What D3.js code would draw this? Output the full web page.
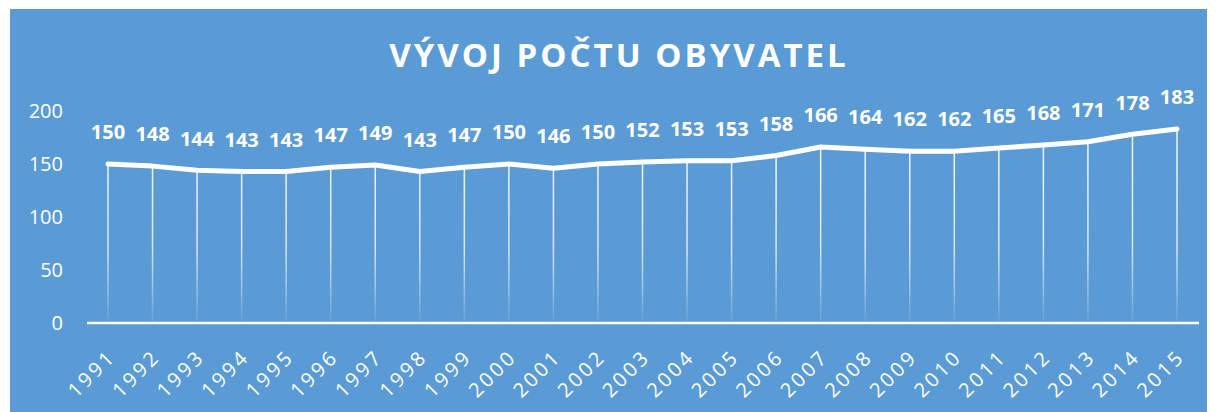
<!DOCTYPE html>
<html>
<head>
<meta charset="utf-8">
<script src="https://cdn.jsdelivr.net/npm/d3@7"></script>
<style>
    body { margin: 0; background: #ffffff; }
    #chart { width: 1217px; height: 412px; }
    text { font-family: "Open Sans", "Noto Sans", sans-serif; fill: #ffffff; }
</style>
</head>
<body>
<div id="chart"></div>
<script>
// data
let years = ["1991", "1992", "1993", "1994", "1995", "1996", "1997", "1998", "1999", "2000",
    "2001", "2002", "2003", "2004", "2005", "2006", "2007", "2008", "2009", "2010",
    "2011", "2012", "2013", "2014", "2015"];
let population = [150, 148, 144, 143, 143, 147, 149, 143, 147, 150,
    146, 150, 152, 153, 153, 158, 166, 164, 162, 162,
    165, 168, 171, 178, 183];
let yTicks = [0, 50, 100, 150, 200];
let title = "VÝVOJ POČTU OBYVATEL";

let width = 1217, height = 412;

let svg = d3.select("#chart").append("svg")
    .attr("width", width)
    .attr("height", height);

// background panel
svg.append("rect")
    .attr("x", 10).attr("y", 9)
    .attr("width", 1197).attr("height", 403)
    .attr("fill", "#5b9bd5");

// gradient for drop lines
let defs = svg.append("defs");
let grad = defs.append("linearGradient")
    .attr("id", "dropGrad")
    .attr("gradientUnits", "userSpaceOnUse")
    .attr("x1", 0).attr("x2", 0)
    .attr("y1", 160).attr("y2", 323);
grad.append("stop").attr("offset", "0%").attr("stop-color", "#fff").attr("stop-opacity", 0.9);
grad.append("stop").attr("offset", "55%").attr("stop-color", "#fff").attr("stop-opacity", 0.75);
grad.append("stop").attr("offset", "100%").attr("stop-color", "#fff").attr("stop-opacity", 0.05);

// scales
let x = d3.scalePoint()
    .domain(years)
    .range([108, 1177]);

let y = d3.scaleLinear()
    .domain([0, 200])
    .range([323, 111]);

// title
svg.append("text")
    .attr("x", 619)
    .attr("y", 67)
    .attr("text-anchor", "middle")
    .style("font-size", "33px")
    .style("font-weight", "bold")
    .style("letter-spacing", "3px")
    .text(title);

// y axis labels
svg.append("g")
    .selectAll("text")
    .data(yTicks)
    .enter().append("text")
    .attr("x", 63)
    .attr("y", d => y(d))
    .attr("dy", "0.36em")
    .attr("text-anchor", "end")
    .style("font-size", "20px")
    .text(d => d);

// drop lines
svg.append("g")
    .selectAll("line")
    .data(years)
    .enter().append("line")
    .attr("x1", d => x(d))
    .attr("x2", d => x(d))
    .attr("y1", (d, i) => y(population[i]))
    .attr("y2", y(0))
    .attr("stroke", "url(#dropGrad)")
    .attr("stroke-width", 1.5);

// x axis line
svg.append("line")
    .attr("x1", 87).attr("x2", 1199)
    .attr("y1", y(0)).attr("y2", y(0))
    .attr("stroke", "#ffffff")
    .attr("stroke-width", 2.5);

// x labels
svg.append("g")
    .selectAll("text")
    .data(years)
    .enter().append("text")
    .attr("transform", d => `translate(${x(d) + 9}, ${y(0) + 35}) rotate(-45)`)
    .attr("text-anchor", "end")
    .style("font-size", "20px")
    .style("letter-spacing", "3px")
    .text(d => d);

// line
let line = d3.line()
    .x((d, i) => x(years[i]))
    .y(d => y(d));

svg.append("path")
    .datum(population)
    .attr("d", line)
    .attr("fill", "none")
    .attr("stroke", "#ffffff")
    .attr("stroke-width", 5)
    .attr("stroke-linecap", "round")
    .attr("stroke-linejoin", "round");

// data labels
svg.append("g")
    .selectAll("text")
    .data(population)
    .enter().append("text")
    .attr("x", (d, i) => x(years[i]))
    .attr("y", d => y(d) - 32)
    .attr("dy", "0.36em")
    .attr("text-anchor", "middle")
    .style("font-size", "20px")
    .style("font-weight", "bold")
    .text(d => d);
</script>
</body>
</html>
